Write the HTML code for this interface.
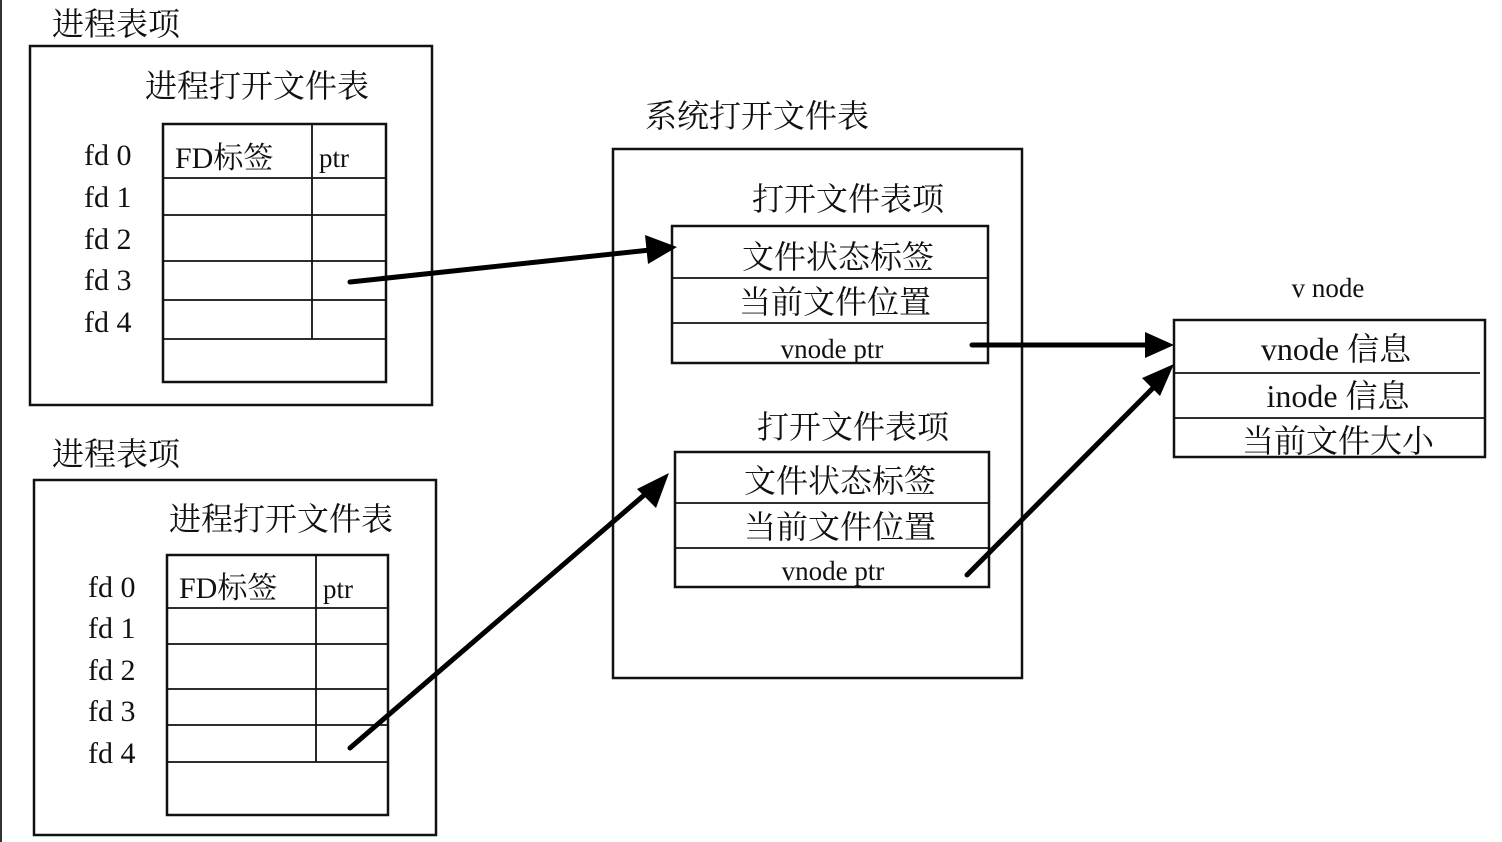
<!DOCTYPE html>
<html><head><meta charset="utf-8"><style>
html,body{margin:0;padding:0;background:#fff;}
svg{display:block;}
text{font-family:"Liberation Serif","Noto Serif CJK SC",serif;fill:#111;}
</style></head><body>
<svg width="1502" height="842" viewBox="0 0 1502 842" xmlns="http://www.w3.org/2000/svg">
<defs><marker id="a" markerWidth="10" markerHeight="10" refX="8" refY="5" orient="auto" markerUnits="userSpaceOnUse"><path d="M0,0 L0,0"/></marker></defs>
<rect x="0" y="0" width="2" height="842" fill="#333"/>
<g stroke="#111" fill="none" stroke-width="2.5">
<rect x="30" y="46" width="402" height="359"/>
<rect x="163" y="124" width="223" height="258"/>
<line x1="312" y1="124" x2="312" y2="339" stroke-width="1.8"/>
<line x1="163" y1="178" x2="386" y2="178" stroke-width="1.8"/>
<line x1="163" y1="215" x2="386" y2="215" stroke-width="1.8"/>
<line x1="163" y1="261" x2="386" y2="261" stroke-width="1.8"/>
<line x1="163" y1="300" x2="386" y2="300" stroke-width="1.8"/>
<line x1="163" y1="339" x2="386" y2="339" stroke-width="1.8"/>
<rect x="34" y="480" width="402" height="355"/>
<rect x="167" y="555" width="221" height="260"/>
<line x1="316" y1="555" x2="316" y2="762" stroke-width="1.8"/>
<line x1="167" y1="608" x2="388" y2="608" stroke-width="1.8"/>
<line x1="167" y1="644" x2="388" y2="644" stroke-width="1.8"/>
<line x1="167" y1="689" x2="388" y2="689" stroke-width="1.8"/>
<line x1="167" y1="725" x2="388" y2="725" stroke-width="1.8"/>
<line x1="167" y1="762" x2="388" y2="762" stroke-width="1.8"/>
<rect x="613" y="149" width="409" height="529"/>
<rect x="672" y="226" width="316" height="137"/>
<line x1="672" y1="278" x2="988" y2="278" stroke-width="1.8"/>
<line x1="672" y1="323" x2="988" y2="323" stroke-width="1.8"/>
<rect x="675" y="452" width="314" height="135"/>
<line x1="675" y1="503" x2="989" y2="503" stroke-width="1.8"/>
<line x1="675" y1="548" x2="989" y2="548" stroke-width="1.8"/>
<rect x="1174" y="320" width="311" height="137"/>
<line x1="1174" y1="373" x2="1480" y2="373" stroke-width="1.8"/>
<line x1="1174" y1="418" x2="1485" y2="418" stroke-width="1.8"/>
</g>
<g stroke="#000" stroke-width="5" stroke-linecap="round" fill="none">
<line x1="350" y1="282" x2="650" y2="250"/>
<line x1="972" y1="345" x2="1148" y2="345"/>
<line x1="350" y1="748" x2="650" y2="490"/>
<line x1="967" y1="575" x2="1156" y2="385"/>
</g>
<g fill="#000">
<polygon points="677,247 645,235 648,264"/>
<polygon points="1174,345 1145,332 1145,358"/>
<polygon points="669,473 637,489 656,508"/>
<polygon points="1174,364 1142,378 1160,396"/>
</g>
<g font-size="32">
<text x="52" y="35">进程表项</text>
<text x="257" y="97" text-anchor="middle">进程打开文件表</text>
<text x="52" y="465">进程表项</text>
<text x="281" y="530" text-anchor="middle">进程打开文件表</text>
<text x="645" y="127">系统打开文件表</text>
<text x="848" y="210" text-anchor="middle">打开文件表项</text>
<text x="838" y="268" text-anchor="middle">文件状态标签</text>
<text x="835" y="313" text-anchor="middle">当前文件位置</text>
<text x="853" y="438" text-anchor="middle">打开文件表项</text>
<text x="840" y="492" text-anchor="middle">文件状态标签</text>
<text x="840" y="538" text-anchor="middle">当前文件位置</text>
<text x="1336" y="360" text-anchor="middle">vnode  信息</text>
<text x="1338" y="407" text-anchor="middle">inode 信息</text>
<text x="1338" y="452" text-anchor="middle">当前文件大小</text>
</g>
<g font-size="30">
<text x="175" y="168">FD标签</text>
<text x="179" y="598">FD标签</text>
<text x="84" y="165">fd 0</text><text x="84" y="207">fd 1</text><text x="84" y="249">fd 2</text><text x="84" y="290">fd 3</text><text x="84" y="332">fd 4</text>
<text x="88" y="597">fd 0</text><text x="88" y="638">fd 1</text><text x="88" y="680">fd 2</text><text x="88" y="721">fd 3</text><text x="88" y="763">fd 4</text>
</g>
<g font-size="27">
<text x="319" y="167">ptr</text>
<text x="323" y="598">ptr</text>
<text x="832" y="358" text-anchor="middle">vnode ptr</text>
<text x="833" y="580" text-anchor="middle">vnode ptr</text>
<text x="1328" y="297" text-anchor="middle">v node</text>
</g>
</svg>
</body></html>
